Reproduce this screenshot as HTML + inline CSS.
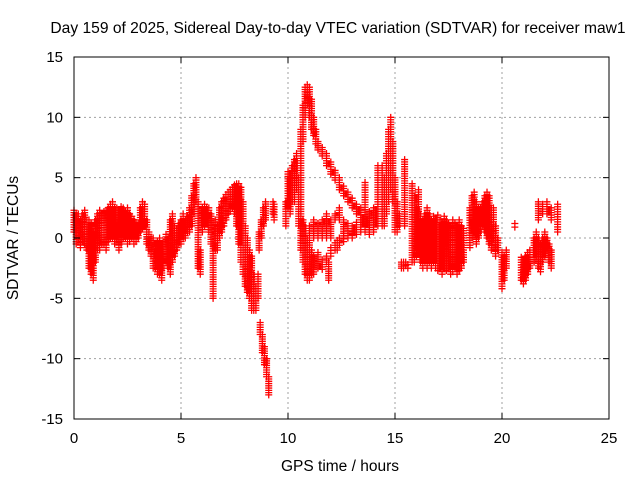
<!DOCTYPE html>
<html><head><meta charset="utf-8"><style>
html,body{margin:0;padding:0;background:#fff;}
svg{display:block;font-family:"Liberation Sans",sans-serif;}
</style></head><body>
<svg id="chart" width="640" height="480" viewBox="0 0 640 480">
<rect width="640" height="480" fill="#fff"/>
<text x="338" y="33" text-anchor="middle" font-size="15.6" fill="#000">Day 159 of 2025, Sidereal Day-to-day VTEC variation (SDTVAR) for receiver maw1</text>
<g id="grid"></g>
<g id="marks"></g>
<rect x="74" y="57" width="535" height="362" fill="none" stroke="#000" stroke-width="1"/>
<g id="ticks"></g>
<text x="340" y="471" text-anchor="middle" font-size="15.5" fill="#000">GPS time / hours</text>
<text x="18" y="238" text-anchor="middle" font-size="15.5" fill="#000" transform="rotate(-90 18 238)">SDTVAR / TECUs</text>
</svg>
<script>
const xTicks = [0,5,10,15,20,25];
const yTicks = [-15,-10,-5,0,5,10,15];
const bandTimes = [0.0,0.1,0.2,0.3,0.4,0.5,0.6,0.7,0.8,0.9,1.0,1.1,1.2,1.3,1.4,1.5,1.6,1.7,1.8,1.9,2.0,2.1,2.2,2.3,2.4,2.5,2.6,2.7,2.8,2.9,3.0,3.1,3.2,3.3,3.4,3.5,3.6,3.7,3.8,3.9,4.0,4.1,4.2,4.3,4.4,4.5,4.6,4.7,4.8,4.9,5.0,5.1,5.2,5.3,5.4,5.5,5.6,5.7,5.8,5.9,6.0,6.1,6.2,6.3,6.4,6.5,6.6,6.7,6.8,6.9,7.0,7.1,7.2,7.3,7.4,7.5,7.6,7.7,7.8,7.9,8.0,8.1,8.2,8.3,8.4,8.5,8.6,8.7,8.8,8.9,9.0,9.1,8.65,8.75,8.85,8.95,9.3,9.35,
9.9,10.0,10.1,10.2,10.3,10.4,10.5,10.6,10.7,10.8,10.9,11.0,11.1,11.2,11.3,11.4,11.6,11.8,12.0,12.2,12.4,12.6,12.8,13.0,13.2,13.4,13.6,13.8,
10.6,10.7,10.8,10.9,11.0,11.1,11.2,11.4,11.6,11.8,12.0,12.2,12.4,12.6,12.8,13.0,11.9,12.3,
11.0,11.2,11.4,11.6,11.8,12.0,12.2,12.4,12.6,12.8,13.0,13.2,13.4,
13.4,13.6,13.8,14.0,14.2,14.4,14.5,14.6,14.7,14.8,14.9,15.0,15.1,15.2,15.3,15.4,15.5,15.6,15.45,
15.8,15.9,16.0,16.1,16.2,16.3,16.4,16.5,16.6,16.7,16.8,16.9,17.0,17.1,17.2,17.3,17.4,17.5,17.6,17.7,17.8,17.9,18.0,18.1,18.2,
18.5,18.6,18.7,18.8,18.9,19.0,19.1,19.2,19.3,19.4,19.5,19.6,19.7,19.8,
20.0,20.1,20.2,20.6,20.9,21.0,21.1,21.2,21.3,21.5,21.6,21.7,21.8,21.9,22.0,22.1,22.2,22.3,21.7,21.9,22.1,22.3,22.6];
const bandLow = [0.5,-0.5,0,-0.8,-0.3,-0.5,-1,-2.5,-3,-3.5,-2,-1,-1,-0.5,-0.5,-1,-0.3,0,0,-0.5,0,-1,-0.5,0,0,-0.5,-0.3,0,-0.5,-0.3,0,0.5,0.8,1,-0.5,-1,-1.5,-2.5,-2.5,-3,-3,-3.5,-2.5,-2,-2.5,-3,-2,-1.5,-1,-0.5,-0.5,0,0,0.5,0.5,1,2,3,-2.5,-3,0.5,1,1.5,0.5,-0.5,-5,-1,-1,0,0.5,1,1.5,2,2.2,2.5,2,1,-0.5,-2,-3,-4,-4.5,-5,-6,-6,-6,-5,-8,-9.5,-10.5,-11.5,-13,-1,0,1,1.5,2,1.5,
1,2.5,2,3,3,4,1,3,8,10,11,10,9,8.5,7.8,7.3,6.8,6,5.3,4.8,4,3.5,3,2.5,2,1.5,1,0.5,
-1,-2,-3,-3.5,-3.5,-3,-3,-2.5,-2.6,-2,-1.5,-1,-0.6,-0.3,0,0.3,-3.5,-1,
0,0,0,0,0,0,1.5,1.5,0,0,0,0.3,0.5,
0.5,0.5,0.3,0.5,1,1,1,2,3,4,3,0.5,0.5,1,-2.5,-2.5,-2.3,-2.5,1,
-2,-2,-1.5,-1,-2,-2.5,-2,-2.5,-2,-2.5,-2,-2.5,-2.7,-2.5,-3,-2.5,-2.7,-2.5,-3,-2.8,-2.5,-3,-2.7,-2.5,-2,
-0.8,0,0.5,-0.5,0,0.5,1,0.5,0,-0.5,-1,0,-1.5,-1,
-4.2,-3.5,-2.5,0.9,-3.5,-3.8,-3.5,-3,-2.5,-2,-1.5,-2.5,-2.8,-2,-1.5,-1,-2,-2.5,1.5,2,2,1.5,0.5];
const bandHigh = [2.3,2,2,1.5,2,2.3,1.5,1.5,1.2,0.5,1.5,2,2.3,2,2.2,2.3,2.5,2.8,3,2.5,2.5,2.3,2.6,2.5,2.2,2.5,2,1.8,1.5,1.3,1.2,2.5,3,2.8,1.5,0.5,0,0,-0.5,-0.3,0,-0.5,-0.3,0.3,0,1.5,2,1,0.8,1.2,1.5,2,1.5,1.8,2.5,3.5,4.5,5,3,-1,2.5,2.8,2.5,2.5,2,-0.5,1.5,1,2.5,3,3.3,3.6,3.8,4,4.2,4.4,4.5,4.5,4.2,3,1,0,-1,-1.5,-3,-4,-3,-7,-8,-9,-10,-11.5,0.5,1.5,2.5,3,3,2.8,
3,5.5,5,6,6.5,7,5,9,11,12.5,12.7,12.5,11.5,10,9,8,7.5,7,6.3,5.6,5,4.3,3.8,3.3,2.8,2.3,1.8,1.3,
3,1.5,1,0,0,-1,-1.5,-1.2,-1.8,-1.5,-0.8,-0.4,0,0.4,0.8,1,-2,-0.2,
1,1.5,1.2,1.5,2,1.5,2,2.5,1.5,1.2,1,1.3,1.5,
2.5,4.6,2.2,2.5,6,6,5,7,9,10,8,5,3,2,-2,-2,-2,-2.2,6.5,
4.5,3.5,2.5,4,2,1.5,2,2.5,2,1.5,1.8,1.5,1.9,1.5,1.2,1.8,1.5,1.2,1,1.5,1.2,0.8,1.5,1,0.8,
2.5,3.5,3.8,3,2.5,2.5,3,3.5,3.8,3.5,2.5,2.5,1,0,
-1.2,-1.5,-1,1.2,-1.6,-1.8,-1.5,-1.2,-1,0,0.5,0,-0.5,0,0.5,0,-0.5,-1,3,2.8,3,2.5,2.8];

const NS='http://www.w3.org/2000/svg';
const X0=74,X1=609,Y0=419,Y1=57;
function xs(t){return X0+(t-0)/(25-0)*(X1-X0);}
function ys(v){return Y0-(v-(-15))/(15-(-15))*(Y0-Y1);}

const grid=document.getElementById('grid');
const ticks=document.getElementById('ticks');
xTicks.forEach(t=>{
  const x=xs(t);
  if(t>0&&t<25){
    const l=document.createElementNS(NS,'line');
    l.setAttribute('x1',x);l.setAttribute('x2',x);l.setAttribute('y1',Y1);l.setAttribute('y2',Y0);
    l.setAttribute('stroke','#a0a0a0');l.setAttribute('stroke-dasharray','2,3');
    
    
    grid.appendChild(l);
  }
  const tk=document.createElementNS(NS,'line');
  tk.setAttribute('x1',x);tk.setAttribute('x2',x);tk.setAttribute('y1',Y0);tk.setAttribute('y2',Y0-6);tk.setAttribute('stroke','#000');
  
  
  ticks.appendChild(tk);
  const tk2=tk.cloneNode();tk2.setAttribute('y1',Y1);tk2.setAttribute('y2',Y1+6);ticks.appendChild(tk2);
  const tx=document.createElementNS(NS,'text');
  tx.setAttribute('x',x);tx.setAttribute('y',Y0+24);tx.setAttribute('text-anchor','middle');tx.setAttribute('font-size','15');
  tx.textContent=t;
  
  
  ticks.appendChild(tx);
});
yTicks.forEach(v=>{
  const y=ys(v);
  if(v>-15&&v<15){
    const l=document.createElementNS(NS,'line');
    l.setAttribute('x1',X0);l.setAttribute('x2',X1);l.setAttribute('y1',y);l.setAttribute('y2',y);
    l.setAttribute('stroke','#a0a0a0');l.setAttribute('stroke-dasharray','2,3');
    
    
    grid.appendChild(l);
  }
  const tk=document.createElementNS(NS,'line');
  tk.setAttribute('x1',X0);tk.setAttribute('x2',X0+6);tk.setAttribute('y1',y);tk.setAttribute('y2',y);tk.setAttribute('stroke','#000');
  
  
  ticks.appendChild(tk);
  const tk2=tk.cloneNode();tk2.setAttribute('x1',X1);tk2.setAttribute('x2',X1-6);ticks.appendChild(tk2);
  const tx=document.createElementNS(NS,'text');
  tx.setAttribute('x',X0-11);tx.setAttribute('y',y+5);tx.setAttribute('text-anchor','end');tx.setAttribute('font-size','15');
  tx.textContent=v;
  
  
  ticks.appendChild(tx);
});

const marks=document.getElementById('marks');
let d='';
for(let i=0;i<bandTimes.length;i++){
  const x=xs(bandTimes[i]);
  const lo=Math.min(bandLow[i],bandHigh[i]), hi=Math.max(bandLow[i],bandHigh[i]);
  const n=Math.max(1,Math.round((hi-lo)/0.2));
  for(let k=0;k<=n;k++){
    const v=lo+(hi-lo)*k/n;
    const y=ys(v);
    d+='M'+(x-3.5)+' '+y+'h7M'+x+' '+(y-3.5)+'v7';
  }
}
const p=document.createElementNS(NS,'path');
p.setAttribute('d',d);p.setAttribute('stroke','#ff0000');p.setAttribute('stroke-width','1.3');p.setAttribute('fill','none');


marks.appendChild(p);
</script>
</body></html>
